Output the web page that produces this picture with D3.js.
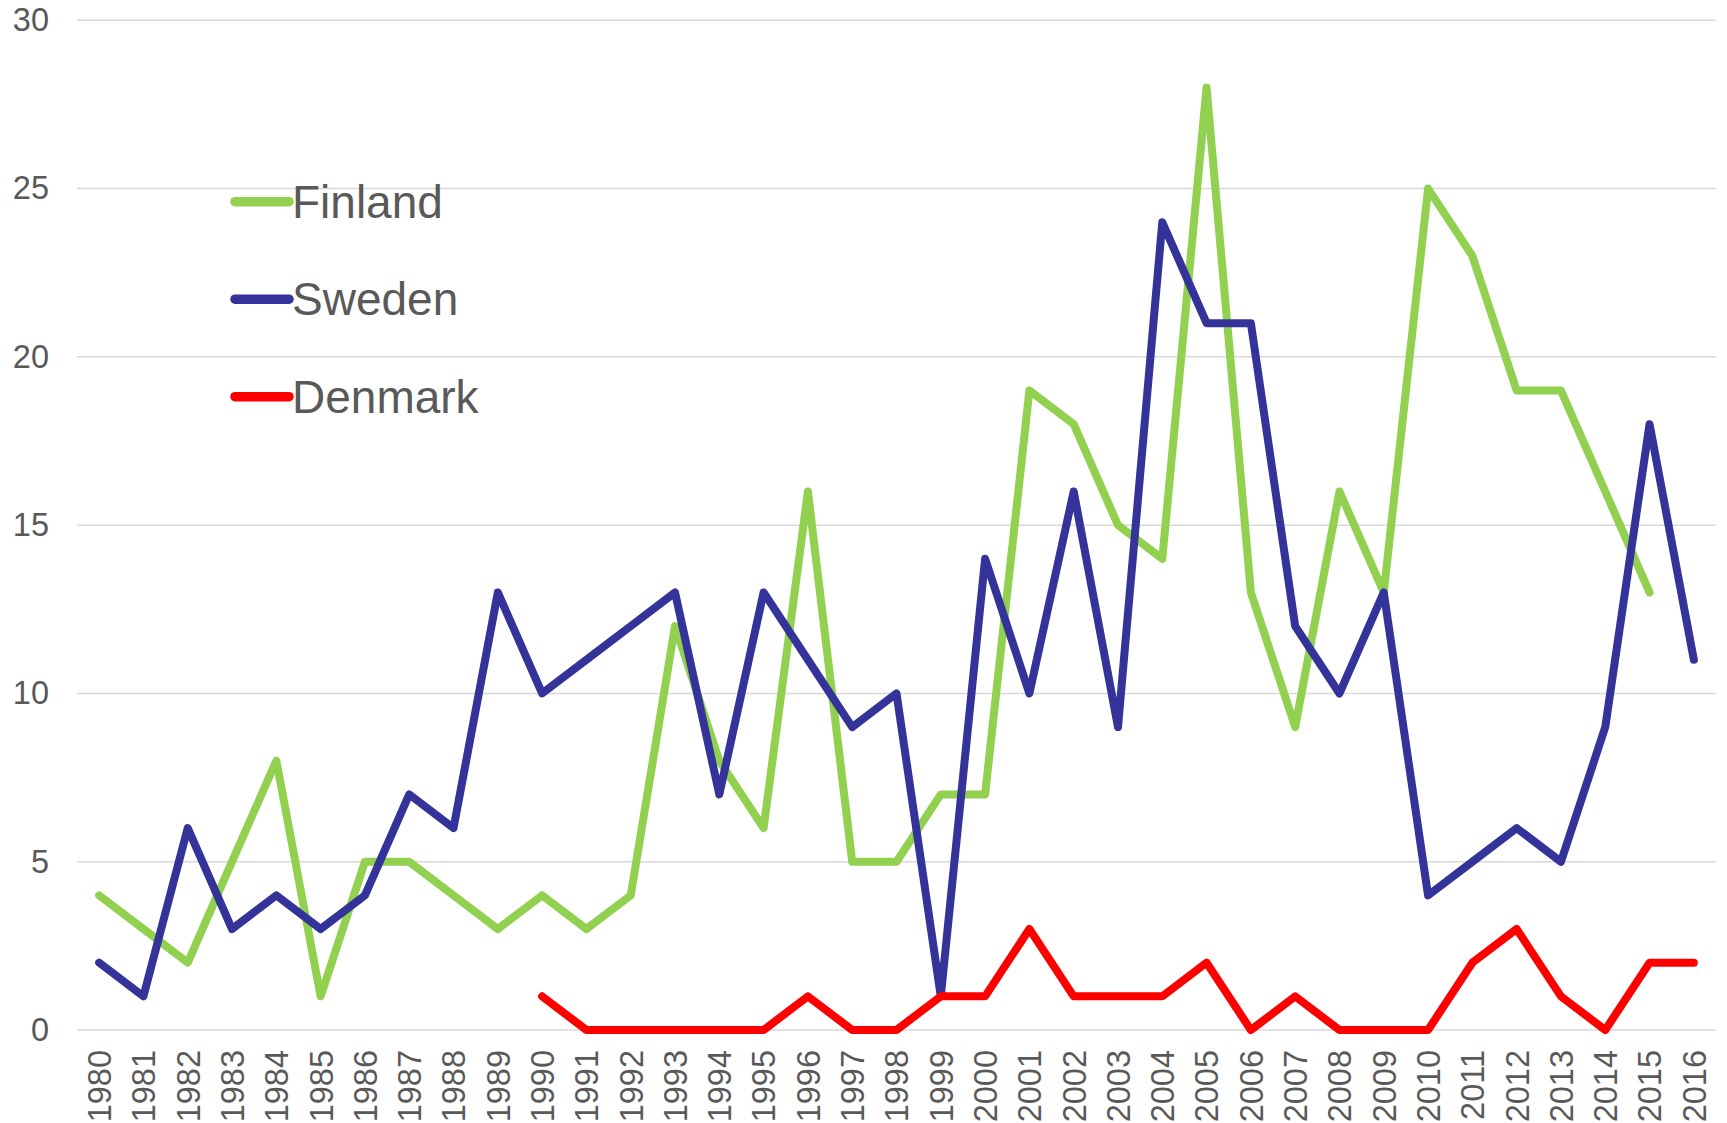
<!DOCTYPE html>
<html>
<head>
<meta charset="utf-8">
<script src="https://cdn.jsdelivr.net/npm/d3@7"></script>
<style>
  body { margin: 0; background: #fff; }
  text { font-family: "Liberation Sans", Arial, sans-serif; fill: #595959; }
</style>
</head>
<body>
<div class="chart"></div>
<script>
// data
var years = d3.range(1980, 2017);
var finland = [4, 3, 2, 5, 8, 1, 5, 5, 4, 3, 4, 3, 4, 12, 8, 6, 16, 5, 5, 7, 7, 19, 18, 15, 14, 28, 13, 9, 16, 13, 25, 23, 19, 19, 16, 13, null];
var sweden = [2, 1, 6, 3, 4, 3, 4, 7, 6, 13, 10, 11, 12, 13, 7, 13, 11, 9, 10, 1, 14, 10, 16, 9, 24, 21, 21, 12, 10, 13, 4, 5, 6, 5, 9, 18, 11];
var denmark = [null, null, null, null, null, null, null, null, null, null, 1, 0, 0, 0, 0, 0, 1, 0, 0, 1, 1, 3, 1, 1, 1, 2, 0, 1, 0, 0, 0, 2, 3, 1, 0, 2, 2];
var yTicks = [0, 5, 10, 15, 20, 25, 30];

var seriesNames = ['Finland', 'Sweden', 'Denmark'];
var seriesColors = ['#92d050', '#333399', '#ff0000'];
var seriesValues = [finland, sweden, denmark];

var margin = { top: 20.3, right: 11, bottom: 93, left: 77 };
var width = 1727 - margin.left - margin.right;
var height = 1123 - margin.top - margin.bottom;

var svg = d3.select('.chart')
  .append('svg')
    .attr('width', 1727)
    .attr('height', 1123)
  .append('g')
    .attr('transform', 'translate(' + margin.left + ',' + margin.top + ')');

var xScale = d3.scalePoint()
  .domain(years)
  .range([0, width])
  .padding(0.5);

var yScale = d3.scaleLinear()
  .domain([0, 30])
  .range([height, 0]);

// gridlines
svg.selectAll('.grid')
  .data(yTicks)
  .enter()
  .append('line')
    .attr('class', 'grid')
    .attr('x1', 0)
    .attr('x2', width)
    .attr('y1', d => yScale(d))
    .attr('y2', d => yScale(d))
    .style('stroke', '#d9d9d9')
    .style('stroke-width', 1.5);

// y axis labels
var yAxis = d3.axisLeft(yScale).tickValues(yTicks).tickSize(0).tickPadding(28);
svg.append('g')
  .call(yAxis)
  .call(g => g.select('.domain').remove())
  .selectAll('text')
    .style('font-size', '32.5px')
    .style('fill', '#595959')
    .style('font-family', '"Liberation Sans", Arial, sans-serif');

// x axis labels, rotated
var xAxis = d3.axisBottom(xScale).tickSize(0).tickPadding(0);
var xg = svg.append('g')
  .attr('transform', `translate(0, ${height})`)
  .call(xAxis);
xg.select('.domain').remove();
xg.selectAll('text')
  .attr('transform', 'translate(0, 20) rotate(-90)')
  .attr('x', 0)
  .attr('y', 0)
  .attr('dy', '0.35em')
  .style('text-anchor', 'end')
  .style('font-size', '32.5px')
  .style('fill', '#595959')
  .style('font-family', '"Liberation Sans", Arial, sans-serif');

var line = d3.line()
  .defined(d => d != null)
  .x((d, i) => xScale(years[i]))
  .y(d => yScale(d));

seriesValues.forEach(function(vals, k) {
  svg.append('path')
    .datum(vals)
    .attr('d', line)
    .style('fill', 'none')
    .style('stroke', seriesColors[k])
    .style('stroke-width', 8)
    .style('stroke-linejoin', 'round')
    .style('stroke-linecap', 'round');
});

// legend
var legend = svg.selectAll('.legend')
  .data(seriesNames)
  .enter()
  .append('g')
    .attr('class', 'legend')
    .attr('transform', (d, i) => `translate(${235 - margin.left}, ${201.7 - margin.top + i * 97.5})`);

legend.append('line')
  .attr('x1', 0)
  .attr('x2', 54)
  .style('stroke', (d, i) => seriesColors[i])
  .style('stroke-width', 9.5)
  .style('stroke-linecap', 'round');

legend.append('text')
  .attr('x', 57)
  .attr('dy', '0.35em')
  .style('font-size', '46px')
  .text(d => d);
</script>
</body>
</html>
